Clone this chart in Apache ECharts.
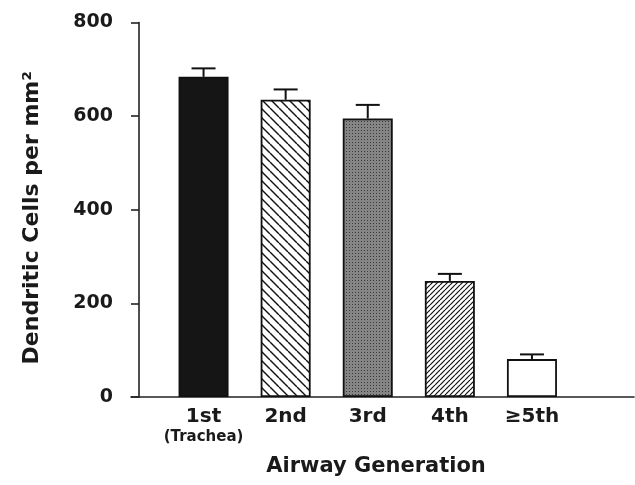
<!DOCTYPE html>
<html>
<head>
<meta charset="utf-8">
<script src="https://cdn.jsdelivr.net/npm/echarts@6/dist/echarts.min.js"></script>
<style>html,body{margin:0;padding:0;background:#fff;}#c{width:635px;height:485px;}</style>
</head>
<body>
<div id="c"></div>
<script>
const categories = ['1st', '2nd', '3rd', '4th', '≥5th'];
const subLabels = ['(Trachea)', '', '', '', ''];
const values = [684, 635, 595, 248, 81];
const errors = [18, 22, 29, 15, 10];
const yTicks = [0, 200, 400, 600, 800];

function makeTile(w, h, draw) {
  const c = document.createElement('canvas');
  c.width = w; c.height = h;
  const ctx = c.getContext('2d');
  draw(ctx, w, h);
  return { image: c, repeat: 'repeat' };
}
const fills = [
  '#151515',
  makeTile(9, 9, (ctx, w, h) => {
    ctx.fillStyle = '#fff'; ctx.fillRect(0, 0, w, h);
    ctx.strokeStyle = '#111'; ctx.lineWidth = 1.4;
    for (const x0 of [-9, 0, 9]) { ctx.beginPath(); ctx.moveTo(x0, 0); ctx.lineTo(x0 + 9, 9); ctx.stroke(); }
  }),
  makeTile(3, 3, (ctx) => {
    ctx.fillStyle = '#858585'; ctx.fillRect(0, 0, 3, 3);
    ctx.fillStyle = '#3a3a3a'; ctx.fillRect(1, 1, 1, 1);
  }),
  makeTile(5, 5, (ctx, w, h) => {
    ctx.fillStyle = '#fff'; ctx.fillRect(0, 0, w, h);
    ctx.strokeStyle = '#111'; ctx.lineWidth = 1.2;
    for (const x0 of [-5, 0, 5]) { ctx.beginPath(); ctx.moveTo(x0, 5); ctx.lineTo(x0 + 5, 0); ctx.stroke(); }
  }),
  '#ffffff'
];

const FONT = 'DejaVu Sans';
const chart = echarts.init(document.getElementById('c'), null, { renderer: 'canvas' });
chart.setOption({
  animation: false,
  backgroundColor: '#fff',
  title: {
    text: 'Airway Generation',
    left: 376, top: 456, textAlign: 'center', padding: 0,
    textStyle: { fontFamily: FONT, fontWeight: 'bold', fontSize: 21, color: '#1a1a1a' }
  },
  grid: [
    { left: 162.5, right: 62, top: 22.5, bottom: 88 },
    { left: 131, right: 1, top: 22.5, bottom: 88 }
  ],
  xAxis: [
    {
      type: 'category', gridIndex: 0, data: categories,
      axisLine: { show: false }, axisTick: { show: false },
      axisLabel: {
        margin: 9, interval: 0,
        formatter: (v, i) => subLabels[i] ? '{a|' + v + '}\n{b|' + subLabels[i] + '}' : '{a|' + v + '}',
        rich: {
          a: { fontFamily: FONT, fontWeight: 'bold', fontSize: 20, color: '#1a1a1a', lineHeight: 21 },
          b: { fontFamily: FONT, fontWeight: 'bold', fontSize: 15, color: '#1a1a1a', lineHeight: 21 }
        }
      }
    },
    {
      type: 'value', gridIndex: 1, min: 0, max: 1,
      axisLine: { show: true, lineStyle: { color: '#222', width: 1.6 } },
      axisTick: { show: false }, axisLabel: { show: false }, splitLine: { show: false }
    }
  ],
  yAxis: [
    {
      type: 'value', gridIndex: 0, min: 0, max: 800, interval: 200, offset: 23.5,
      name: 'Dendritic Cells per mm²', nameLocation: 'middle', nameGap: 96,
      nameTextStyle: { fontFamily: FONT, fontWeight: 'bold', fontSize: 22, color: '#1a1a1a', padding: [0, 16, 0, 0] },
      axisLine: { show: true, lineStyle: { color: '#222', width: 1.6 } },
      axisTick: { show: true, length: 8, lineStyle: { color: '#222', width: 1.6 } },
      axisLabel: { margin: 26, fontFamily: FONT, fontWeight: 'bold', fontSize: 19, color: '#1a1a1a',
        formatter: v => yTicks.includes(v) ? String(v) : '' },
      splitLine: { show: false }
    },
    { type: 'value', gridIndex: 1, min: 0, max: 1, show: false }
  ],
  series: [
    {
      type: 'bar', xAxisIndex: 0, yAxisIndex: 0, barWidth: 50,
      data: values.map((v, i) => ({ value: v, itemStyle: { color: fills[i], borderColor: '#111', borderWidth: 1.8 } })),
      z: 2
    },
    {
      type: 'custom', xAxisIndex: 0, yAxisIndex: 0, z: 3,
      data: values.map((v, i) => [i, v, errors[i]]),
      renderItem: function (params, api) {
        const x = api.value(0), v = api.value(1), e = api.value(2);
        const p0 = api.coord([x, v]);
        const p1 = api.coord([x, v + e]);
        const st = { stroke: '#111', lineWidth: 2 };
        return {
          type: 'group',
          children: [
            { type: 'line', shape: { x1: p0[0], y1: p0[1], x2: p1[0], y2: p1[1] }, style: st },
            { type: 'line', shape: { x1: p1[0] - 12, y1: p1[1], x2: p1[0] + 12, y2: p1[1] }, style: st }
          ]
        };
      }
    }
  ]
});
</script>
</body>
</html>
